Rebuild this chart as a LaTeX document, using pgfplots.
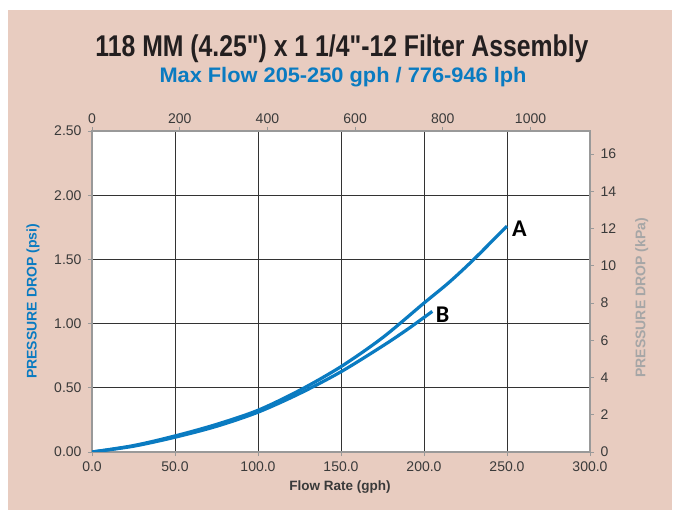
\documentclass[border=0pt]{standalone}
\usepackage{fontspec}
\setmainfont{Liberation Sans}
\newfontfamily\plainsans{Liberation Sans}
\newfontfamily\letterfont{Carlito}
\usepackage{graphicx}
\usepackage{pgfplots}
\pgfplotsset{compat=1.18}
\definecolor{bgpink}{HTML}{E8CCC0}
\definecolor{lineblue}{HTML}{0A7BC1}
\definecolor{labgray}{HTML}{A6A6A6}
\definecolor{tickgray}{HTML}{3A3A3A}
\definecolor{titleblack}{HTML}{231F20}

\pgfplotstableread{
gph psi
0 0
25 0.05
50 0.125
75 0.215
100 0.325
125 0.48
150 0.665
175 0.89
200 1.16
215 1.32
230 1.50
250 1.76
}\curveA

\pgfplotstableread{
gph psi
0 0
25 0.045
50 0.115
75 0.2
100 0.31
125 0.455
150 0.625
175 0.825
190 0.955
205 1.095
}\curveB

\pgfplotsset{
  common/.style={
    at={(92pt,-452pt)}, anchor=south west,
    scale only axis, width=498pt, height=321pt,
    /pgf/number format/assume math mode=true,
    /pgf/number format/1000 sep={},
    tick label style={font=\fontsize{14}{16}\selectfont, text=tickgray},
    tick align=outside,
    major tick length=4pt,
    tick style={gray!80, line width=0.8pt},
    axis line style={gray!80, line width=1.2pt},
  }
}

\begin{document}
\begin{tikzpicture}
\fill[white] (0pt,0pt) rectangle (675pt,-510pt);
\fill[bgpink] (8pt,-10pt) rectangle (672pt,-510pt);
\useasboundingbox (0pt,0pt) rectangle (675pt,-510pt);

\node[anchor=base, text=titleblack, font=\plainsans\fontsize{30}{32}\selectfont\bfseries]
  at (342pt,-57pt) {\resizebox{493pt}{\height}{118 MM (4.25") x 1 1/4"-12 Filter Assembly}};
\node[anchor=base, text=lineblue, font=\fontsize{21}{23}\selectfont\bfseries]
  at (343pt,-83pt) {\resizebox{367pt}{\height}{Max Flow 205-250 gph / 776-946 lph}};

% main axis: gph vs psi
\begin{axis}[common,
  axis background/.style={fill=white},
  xmin=0, xmax=300, ymin=0, ymax=2.5,
  xtick={0,50,...,300}, ytick={0,0.5,...,2.5},
  tick pos=left,
  grid=major,
  major grid style={black!80, line width=0.8pt},
  xticklabel style={yshift=-2pt, /pgf/number format/.cd, fixed, fixed zerofill, precision=1},
  yticklabel style={xshift=-3pt, /pgf/number format/.cd, fixed, fixed zerofill, precision=2},
  xlabel={Flow Rate (gph)},
  xlabel style={at={(axis description cs:0.498,-0.109)}, anchor=center,
    font=\fontsize{13.5}{15}\selectfont\bfseries, text=tickgray},
  ylabel={PRESSURE DROP (psi)},
  ylabel style={at={(axis description cs:-0.1185,0.469)}, anchor=center, rotate=0,
    font=\fontsize{14}{16}\selectfont\bfseries, text=lineblue},
]
\addplot[lineblue, line width=3.2pt, smooth] table[x=gph, y=psi] {\curveA};
\addplot[lineblue, line width=3.2pt, smooth] table[x=gph, y=psi] {\curveB};
\node[anchor=west, font=\letterfont\fontsize{24}{26}\selectfont\bfseries] at (axis cs:251,1.74) {A};
\node[anchor=west, font=\letterfont\fontsize{24}{26}\selectfont\bfseries] at (axis cs:205,1.07) {B};
\end{axis}

% top axis: lph
\begin{axis}[common,
  xmin=0, xmax=1135.6, ymin=0, ymax=2.5,
  axis x line*=top, axis y line=none,
  xtick={0,200,...,1000}, ytick=\empty,
]
\end{axis}

% right axis: kPa
\begin{axis}[common,
  xmin=0, xmax=300, ymin=0, ymax=17.237,
  axis y line*=right, axis x line=none,
  ytick={0,2,...,16}, xtick=\empty,
  yticklabel style={xshift=3pt},
  ylabel={PRESSURE DROP (kPa)},
  ylabel style={at={(axis description cs:1.104,0.48)}, anchor=center, rotate=0,
    font=\fontsize{14}{16}\selectfont\bfseries, text=labgray},
]
\end{axis}
\end{tikzpicture}
\end{document}
